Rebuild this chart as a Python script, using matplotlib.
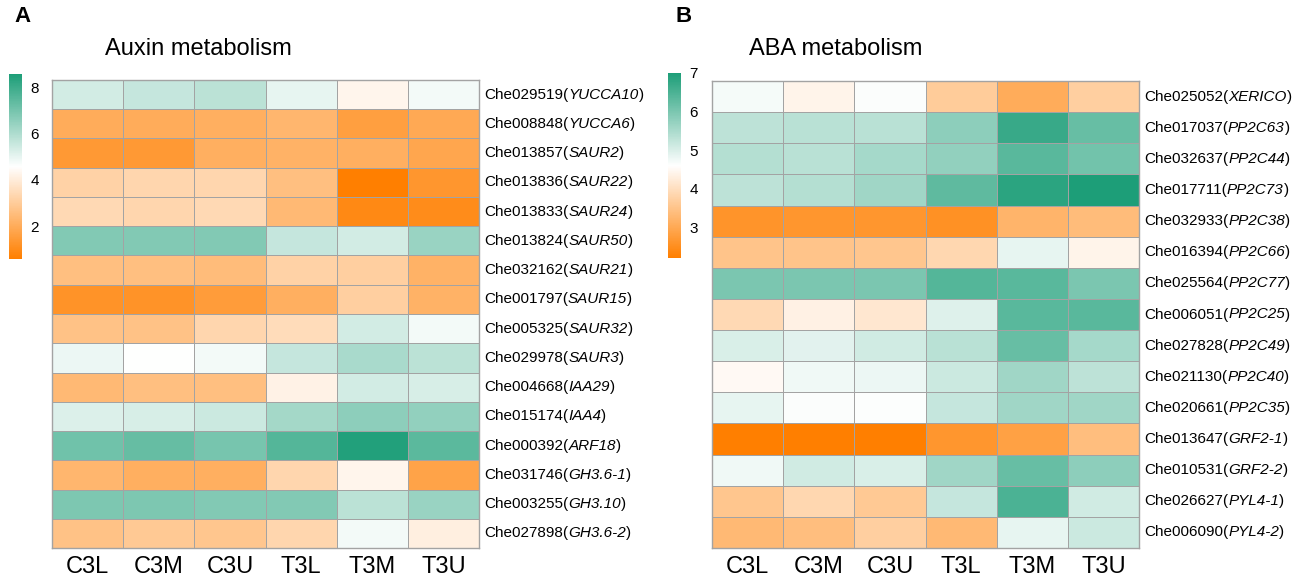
import numpy as np
import matplotlib
matplotlib.use("Agg")
import matplotlib.pyplot as plt
import matplotlib.transforms as mtransforms
from matplotlib.colors import LinearSegmentedColormap

plt.rcParams['font.family'] = ['Liberation Sans', 'DejaVu Sans']

samples = ['C3L', 'C3M', 'C3U', 'T3L', 'T3M', 'T3U']

auxin_ids = ['Che029519', 'Che008848', 'Che013857', 'Che013836', 'Che013833',
             'Che013824', 'Che032162', 'Che001797', 'Che005325', 'Che029978',
             'Che004668', 'Che015174', 'Che000392', 'Che031746', 'Che003255',
             'Che027898']
auxin_genes = ['YUCCA10', 'YUCCA6', 'SAUR2', 'SAUR22', 'SAUR24', 'SAUR50',
               'SAUR21', 'SAUR15', 'SAUR32', 'SAUR3', 'IAA29', 'IAA4', 'ARF18',
               'GH3.6-1', 'GH3.10', 'GH3.6-2']
auxin_vals = [
    [5.4, 5.6, 5.8, 5.0, 4.3, 4.8],
    [2.0, 2.0, 2.1, 2.3, 1.6, 1.9],
    [1.4, 1.4, 2.1, 2.2, 2.1, 1.8],
    [3.2, 3.3, 3.3, 2.6, 0.6, 1.3],
    [3.4, 3.3, 3.4, 2.4, 0.9, 1.0],
    [6.8, 6.8, 6.8, 5.6, 5.4, 6.4],
    [2.6, 2.6, 2.5, 3.2, 3.1, 2.2],
    [1.2, 1.2, 1.5, 2.1, 3.1, 2.2],
    [2.7, 2.7, 3.3, 3.5, 5.4, 4.8],
    [4.9, 4.6, 4.8, 5.6, 6.1, 5.8],
    [2.4, 2.6, 2.6, 4.2, 5.4, 5.3],
    [5.2, 5.3, 5.5, 6.2, 6.6, 6.5],
    [7.1, 7.3, 7.0, 7.6, 8.5, 7.5],
    [2.3, 2.1, 2.1, 3.3, 4.3, 1.7],
    [6.9, 6.9, 6.8, 6.8, 5.8, 6.4],
    [2.7, 2.9, 2.8, 3.3, 4.8, 4.1],
]

aba_ids = ['Che025052', 'Che017037', 'Che032637', 'Che017711', 'Che032933',
           'Che016394', 'Che025564', 'Che006051', 'Che027828', 'Che021130',
           'Che020661', 'Che013647', 'Che010531', 'Che026627', 'Che006090']
aba_genes = ['XERICO', 'PP2C63', 'PP2C44', 'PP2C73', 'PP2C38', 'PP2C66',
             'PP2C77', 'PP2C25', 'PP2C49', 'PP2C40', 'PP2C35', 'GRF2-1',
             'GRF2-2', 'PYL4-1', 'PYL4-2']
aba_vals = [
    [4.7, 4.4, 4.65, 3.65, 3.05, 3.7],
    [5.3, 5.35, 5.35, 5.8, 6.7, 6.2],
    [5.4, 5.35, 5.55, 5.75, 6.35, 6.1],
    [5.3, 5.4, 5.6, 6.3, 6.85, 7.0],
    [2.6, 2.65, 2.65, 2.55, 3.2, 3.35],
    [3.5, 3.5, 3.55, 3.85, 4.85, 4.4],
    [6.0, 6.0, 6.0, 6.4, 6.35, 6.0],
    [3.9, 4.35, 4.15, 4.95, 6.35, 6.35],
    [5.0, 4.9, 5.1, 5.35, 6.2, 5.55],
    [4.5, 4.75, 4.8, 5.15, 5.6, 5.3],
    [4.85, 4.65, 4.62, 5.2, 5.6, 5.6],
    [2.2, 2.2, 2.2, 2.65, 2.85, 3.4],
    [4.75, 5.1, 5.0, 5.6, 6.2, 5.8],
    [3.55, 3.85, 3.6, 5.2, 6.5, 5.1],
    [3.3, 3.4, 3.7, 3.3, 4.85, 5.15],
]

cmap = LinearSegmentedColormap.from_list('og', ['#FF7F00', '#FFFFFF', '#1D9E78'])


def row_labels(fig, ax, ids, genes, fs=11):
    # id + ( normal, gene italic, ) normal, chained left to right
    renderer = fig.canvas.get_renderer()
    base = mtransforms.blended_transform_factory(ax.transAxes, ax.transData)
    base = mtransforms.offset_copy(base, fig=fig, x=5, y=0, units='dots')
    for i, (cid, gene) in enumerate(zip(ids, genes)):
        tr = base
        for txt, style in [(cid + '(', 'normal'), (gene, 'italic'), (')', 'normal')]:
            t = ax.text(1.0, i + 0.5, txt, transform=tr, fontsize=fs,
                        style=style, ha='left', va='center', clip_on=False)
            w = t.get_window_extent(renderer=renderer).width
            tr = mtransforms.offset_copy(tr, fig=fig, x=w, y=0, units='dots')


def draw_panel(fig, rect, cbrect, vals, ids, genes, vmin, vmax, cticks,
               title, title_x, letter, letter_x):
    ax = fig.add_axes(rect)
    data = np.array(vals)
    mesh = ax.pcolormesh(data, cmap=cmap, vmin=vmin, vmax=vmax,
                         edgecolors='#A3A3A3', linewidth=0.7)
    ax.set_xlim(0, data.shape[1])
    ax.set_ylim(data.shape[0], 0)
    ax.set_xticks(np.arange(data.shape[1]) + 0.5)
    ax.set_xticklabels(samples, fontsize=17)
    ax.set_yticks([])
    ax.tick_params(length=0)
    ax.tick_params(axis='x', pad=6)
    for s in ax.spines.values():
        s.set_color('#A3A3A3')
        s.set_linewidth(1.0)
    row_labels(fig, ax, ids, genes)

    cax = fig.add_axes(cbrect)
    cb = fig.colorbar(mesh, cax=cax, ticks=cticks)
    cb.outline.set_visible(False)
    cax.tick_params(length=0, labelsize=11, pad=6)

    fig.text(title_x, 1 - 49 / 577, title, fontsize=17, ha='center', va='center')
    fig.text(letter_x, 1 - 17 / 577, letter, fontsize=16, fontweight='bold',
             ha='left', va='center')
    return ax


fig = plt.figure(figsize=(12.99, 5.77), dpi=100)
W, H = 1299, 577

draw_panel(fig, [52 / W, 1 - 548 / H, 427 / W, 468 / H],
           [9 / W, 1 - 259 / H, 13 / W, 185 / H],
           auxin_vals, auxin_ids, auxin_genes, 0.57, 8.6, [2, 4, 6, 8],
           'Auxin metabolism', 198 / W, 'A', 14 / W)

draw_panel(fig, [712 / W, 1 - 548 / H, 427 / W, 467 / H],
           [668 / W, 1 - 258 / H, 13 / W, 185 / H],
           aba_vals, aba_ids, aba_genes, 2.2, 7.0, [3, 4, 5, 6, 7],
           'ABA metabolism', 836 / W, 'B', 676 / W)

fig.savefig('out.png', dpi=100)
